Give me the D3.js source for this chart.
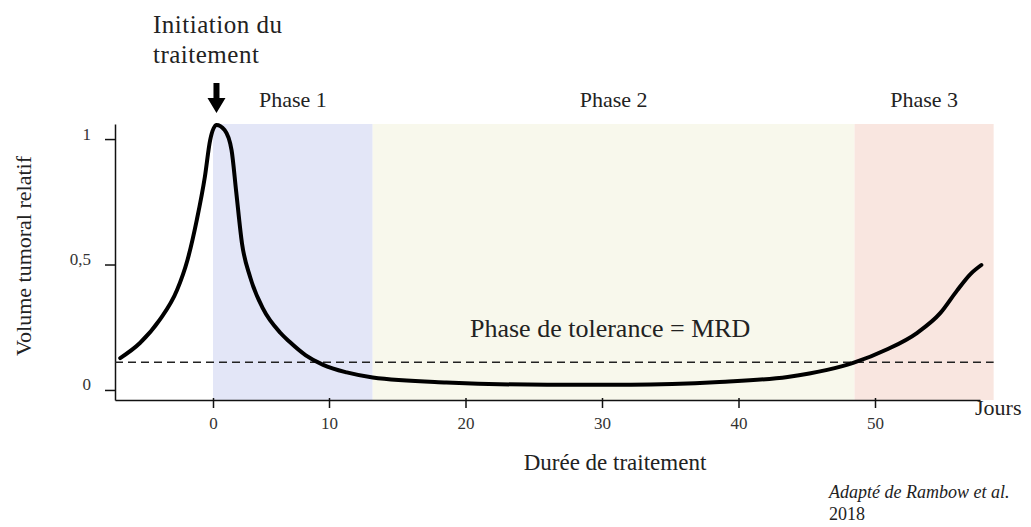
<!DOCTYPE html>
<html>
  <head>
    <meta charset="utf-8">
    <title>Volume tumoral relatif</title>
    <script src="https://cdn.jsdelivr.net/npm/d3@7"></script>
    <style>
      body { margin: 0; background: #fff; }
      svg { display: block; font-family: "Liberation Serif", "DejaVu Serif", serif; }
      .axis path, .axis line { stroke: #111; stroke-width: 1.5; }
      .axis text { font-family: "Liberation Serif", serif; font-size: 17px; fill: #333; }
      .label { fill: #222; }
    </style>
  </head>

  <body>
    <svg id="chart" width="1031" height="527">
      <g id="bandGroup"></g>
      <g id="xAxisGroup" class="axis"></g>
      <g id="yAxisGroup" class="axis"></g>
      <g id="lineGroup"></g>
      <g id="labelGroup"></g>
    </svg>

    <script>
      // curve readings (days, relative volume)
      days = [-8.0, -6.3, -4.6, -3.1, -2.2, -1.4, -0.7, -0.25, 0.3, 1.0, 1.6, 2.0, 2.5, 3.2, 4.3,
              5.8, 6.6, 8.0, 9.5, 11.3, 13.2, 18.6, 26.0, 32.1, 38.6, 43.6, 46.5, 48.4, 50.9,
              53.1, 54.8, 56.0, 57.0, 57.8];
      volume = [0.127, 0.187, 0.279, 0.398, 0.518, 0.677, 0.85, 0.995, 1.056, 1.036, 0.956, 0.79,
                0.584, 0.45, 0.325, 0.228, 0.192, 0.138, 0.1, 0.07, 0.05, 0.03, 0.021, 0.021,
                0.032, 0.052, 0.08, 0.108, 0.162, 0.228, 0.307, 0.395, 0.462, 0.498];

      // phases
      phaseNames = ["Phase 1", "Phase 2", "Phase 3"];
      phaseStart = [0, 13.2, 48.5];
      phaseEnd = [13.2, 48.5, 58.7];
      phaseColours = ["#e3e6f7", "#f8f8ec", "#f9e6e0"];

      // ticks and thresholds
      xTicks = [0, 10, 20, 30, 40, 50];
      yTicks = [0, 0.5, 1];
      mrdLevel = 0.11;

      // page elements
      chart = d3.select("#chart");
      bandGroup = d3.select("#bandGroup");
      xAxisGroup = d3.select("#xAxisGroup");
      yAxisGroup = d3.select("#yAxisGroup");
      lineGroup = d3.select("#lineGroup");
      labelGroup = d3.select("#labelGroup");

      // scales (the source axis is not evenly spaced, so x is piecewise)
      x = d3.scaleLinear()
        .domain([-8.45, 0, 10, 50, 57.7])
        .range([115, 213, 329, 875, 980]);
      y = d3.scaleLinear()
        .domain([-0.04, 1.06])
        .range([400, 124]);

      // phase bands
      bandTop = y(1.06);
      bands = bandGroup.selectAll("rect")
          .data(phaseNames)
        .enter().append("rect")
          .attr("x", function(d, i) { return x(phaseStart[i]); })
          .attr("width", function(d, i) { return x(phaseEnd[i]) - x(phaseStart[i]); })
          .attr("y", bandTop)
          .attr("height", y(-0.04) - bandTop)
          .attr("fill", function(d, i) { return phaseColours[i]; });

      labelGroup.selectAll(".phase")
          .data(phaseNames)
        .enter().append("text")
          .attr("class", "label phase")
          .attr("x", function(d, i) { return (x(phaseStart[i]) + x(phaseEnd[i])) / 2; })
          .attr("y", 107)
          .attr("text-anchor", "middle")
          .style("font-size", "22px")
          .text(function(d) { return d; });

      // axes
      xAxis = d3.axisBottom(x)
        .tickValues(xTicks)
        .tickSizeOuter(0)
        .tickSizeInner(8)
        .tickPadding(9)
        .tickFormat(d3.format("d"));
      yAxis = d3.axisLeft(y)
        .tickValues(yTicks)
        .tickSizeOuter(0)
        .tickSizeInner(10)
        .tickPadding(14)
        .tickFormat(function(d) { return String(d).replace(".", ","); });

      xAxisGroup.attr("transform", "translate(0, " + y(-0.04) + ")")
        .call(xAxis);
      yAxisGroup.attr("transform", "translate(" + x(-8.45) + ", 0)")
        .call(yAxis);
      yAxisGroup.selectAll(".tick text").attr("dy", "0");
      xAxisGroup.selectAll(".tick line").attr("y1", -2);

      // MRD threshold
      lineGroup.append("line")
        .attr("x1", x(-8.45))
        .attr("x2", x(58.7))
        .attr("y1", y(mrdLevel))
        .attr("y2", y(mrdLevel))
        .attr("stroke", "#222")
        .attr("stroke-width", 1.5)
        .attr("stroke-dasharray", "8,5");

      // tumour volume curve
      line = d3.line()
        .x(function(d, i) { return x(d); })
        .y(function(d, i) { return y(volume[i]); })
        .curve(d3.curveMonotoneX);
      lineGroup.append("path")
        .attr("d", line(days))
        .attr("fill", "none")
        .attr("stroke", "#000")
        .attr("stroke-width", 4)
        .attr("stroke-linecap", "round")
        .attr("stroke-linejoin", "round");

      // treatment start arrow
      ax = x(0.3);
      lineGroup.append("path")
        .attr("d", "M" + (ax - 3) + ",83 L" + (ax + 3) + ",83 L" + (ax + 3) + ",98 L" + (ax + 9) + ",98 L" + ax + ",113 L" + (ax - 9) + ",98 L" + (ax - 3) + ",98 Z")
        .attr("fill", "#000");

      // text labels
      initiation = labelGroup.append("text")
        .attr("class", "label")
        .style("font-size", "25px")
        .style("letter-spacing", "0.5px");
      initiation.append("tspan").attr("x", 153).attr("y", 33).text("Initiation du");
      initiation.append("tspan").attr("x", 153).attr("y", 63).text("traitement");

      labelGroup.append("text")
        .attr("class", "label")
        .attr("x", 470)
        .attr("y", 337)
        .style("font-size", "26px")
        .text("Phase de tolerance = MRD");

      labelGroup.append("text")
        .attr("class", "label")
        .attr("x", 975)
        .attr("y", 415)
        .style("font-size", "22px")
        .text("Jours");

      labelGroup.append("text")
        .attr("class", "label")
        .attr("x", 615)
        .attr("y", 470)
        .attr("text-anchor", "middle")
        .style("font-size", "23px")
        .text("Durée de traitement");

      labelGroup.append("text")
        .attr("class", "label")
        .attr("transform", "translate(31, 256) rotate(-90)")
        .attr("text-anchor", "middle")
        .style("font-size", "22px")
        .text("Volume tumoral relatif");

      credit = labelGroup.append("text")
        .attr("class", "label")
        .style("font-size", "18px")
        .style("font-style", "italic");
      credit.append("tspan").attr("x", 829).attr("y", 498).text("Adapté de Rambow et al.");
      credit.append("tspan").attr("x", 829).attr("y", 520).style("font-style", "normal").text("2018");
    </script>
  </body>
</html>
